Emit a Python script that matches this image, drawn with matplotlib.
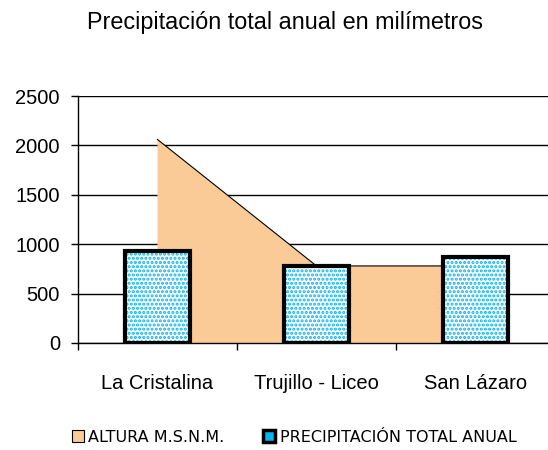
import matplotlib
matplotlib.use("Agg")
import matplotlib.pyplot as plt
from matplotlib.patches import Patch
import numpy as np

categories = ["La Cristalina", "Trujillo - Liceo", "San Lázaro"]
altura = [2060, 780, 780]
precipitacion = [930, 775, 870]
yticks = [0, 500, 1000, 1500, 2000, 2500]
title = "Precipitación total anual en milímetros"
legend_labels = ["ALTURA M.S.N.M.", "PRECIPITACIÓN TOTAL ANUAL"]

peach = "#FBCB97"
cyan = "#08B4F2"

plt.rcParams["font.family"] = ["Liberation Sans", "DejaVu Sans"]
plt.rcParams["hatch.linewidth"] = 1.5

fig = plt.figure(figsize=(5.48, 4.5), dpi=100)
ax = fig.add_axes([78 / 548, 1 - 343 / 450, 477 / 548, 247 / 450])

x = np.arange(len(categories))
ax.fill_between(x, altura, 0, facecolor=peach, edgecolor="none", zorder=2)
ax.plot(x, altura, color="black", lw=0.8, zorder=2.1)
ax.bar(x, precipitacion, width=0.41, color="white", edgecolor=cyan,
       hatch="....", linewidth=0, zorder=3)
ax.bar(x, precipitacion, width=0.41, fill=False, edgecolor="black",
       linewidth=3, zorder=4)

ax.set_xlim(-0.5, len(categories) - 0.5)
ax.set_ylim(0, 2500)
ax.set_yticks(yticks)
ax.set_yticklabels([str(v) for v in yticks])
ax.set_xticks(x)
ax.set_xticklabels(categories)
ax.set_xticks(np.arange(-0.5, len(categories), 1.0), minor=True)
ax.tick_params(axis="x", which="major", length=0, pad=22, labelsize=14.5)
ax.tick_params(axis="x", which="minor", length=5, width=1, color="black", direction="out")
ax.tick_params(axis="y", length=5, width=1, color="black", pad=8, labelsize=14.5)

ax.yaxis.grid(True, color="black", lw=1, zorder=0.5)
ax.set_axisbelow(True)
for s in ["top", "right"]:
    ax.spines[s].set_visible(False)
for s in ["left", "bottom"]:
    ax.spines[s].set_color("black")
    ax.spines[s].set_linewidth(1)
    ax.spines[s].set_zorder(5)

fig.text(285 / 548, 1 - 22 / 450, title, ha="center", va="center", fontsize=16.8)

handles = [
    Patch(facecolor=peach, edgecolor="black", linewidth=0.8),
    Patch(facecolor=cyan, edgecolor="black", linewidth=2.5),
]
leg = fig.legend(handles, legend_labels, loc="center", ncol=2,
                 bbox_to_anchor=(294 / 548, 1 - 437 / 450), frameon=False,
                 handlelength=0.75, handleheight=0.75, handletextpad=0.3,
                 columnspacing=2.4, prop={"family": "DejaVu Sans", "size": 11.5})

fig.savefig("out.png", dpi=100)
